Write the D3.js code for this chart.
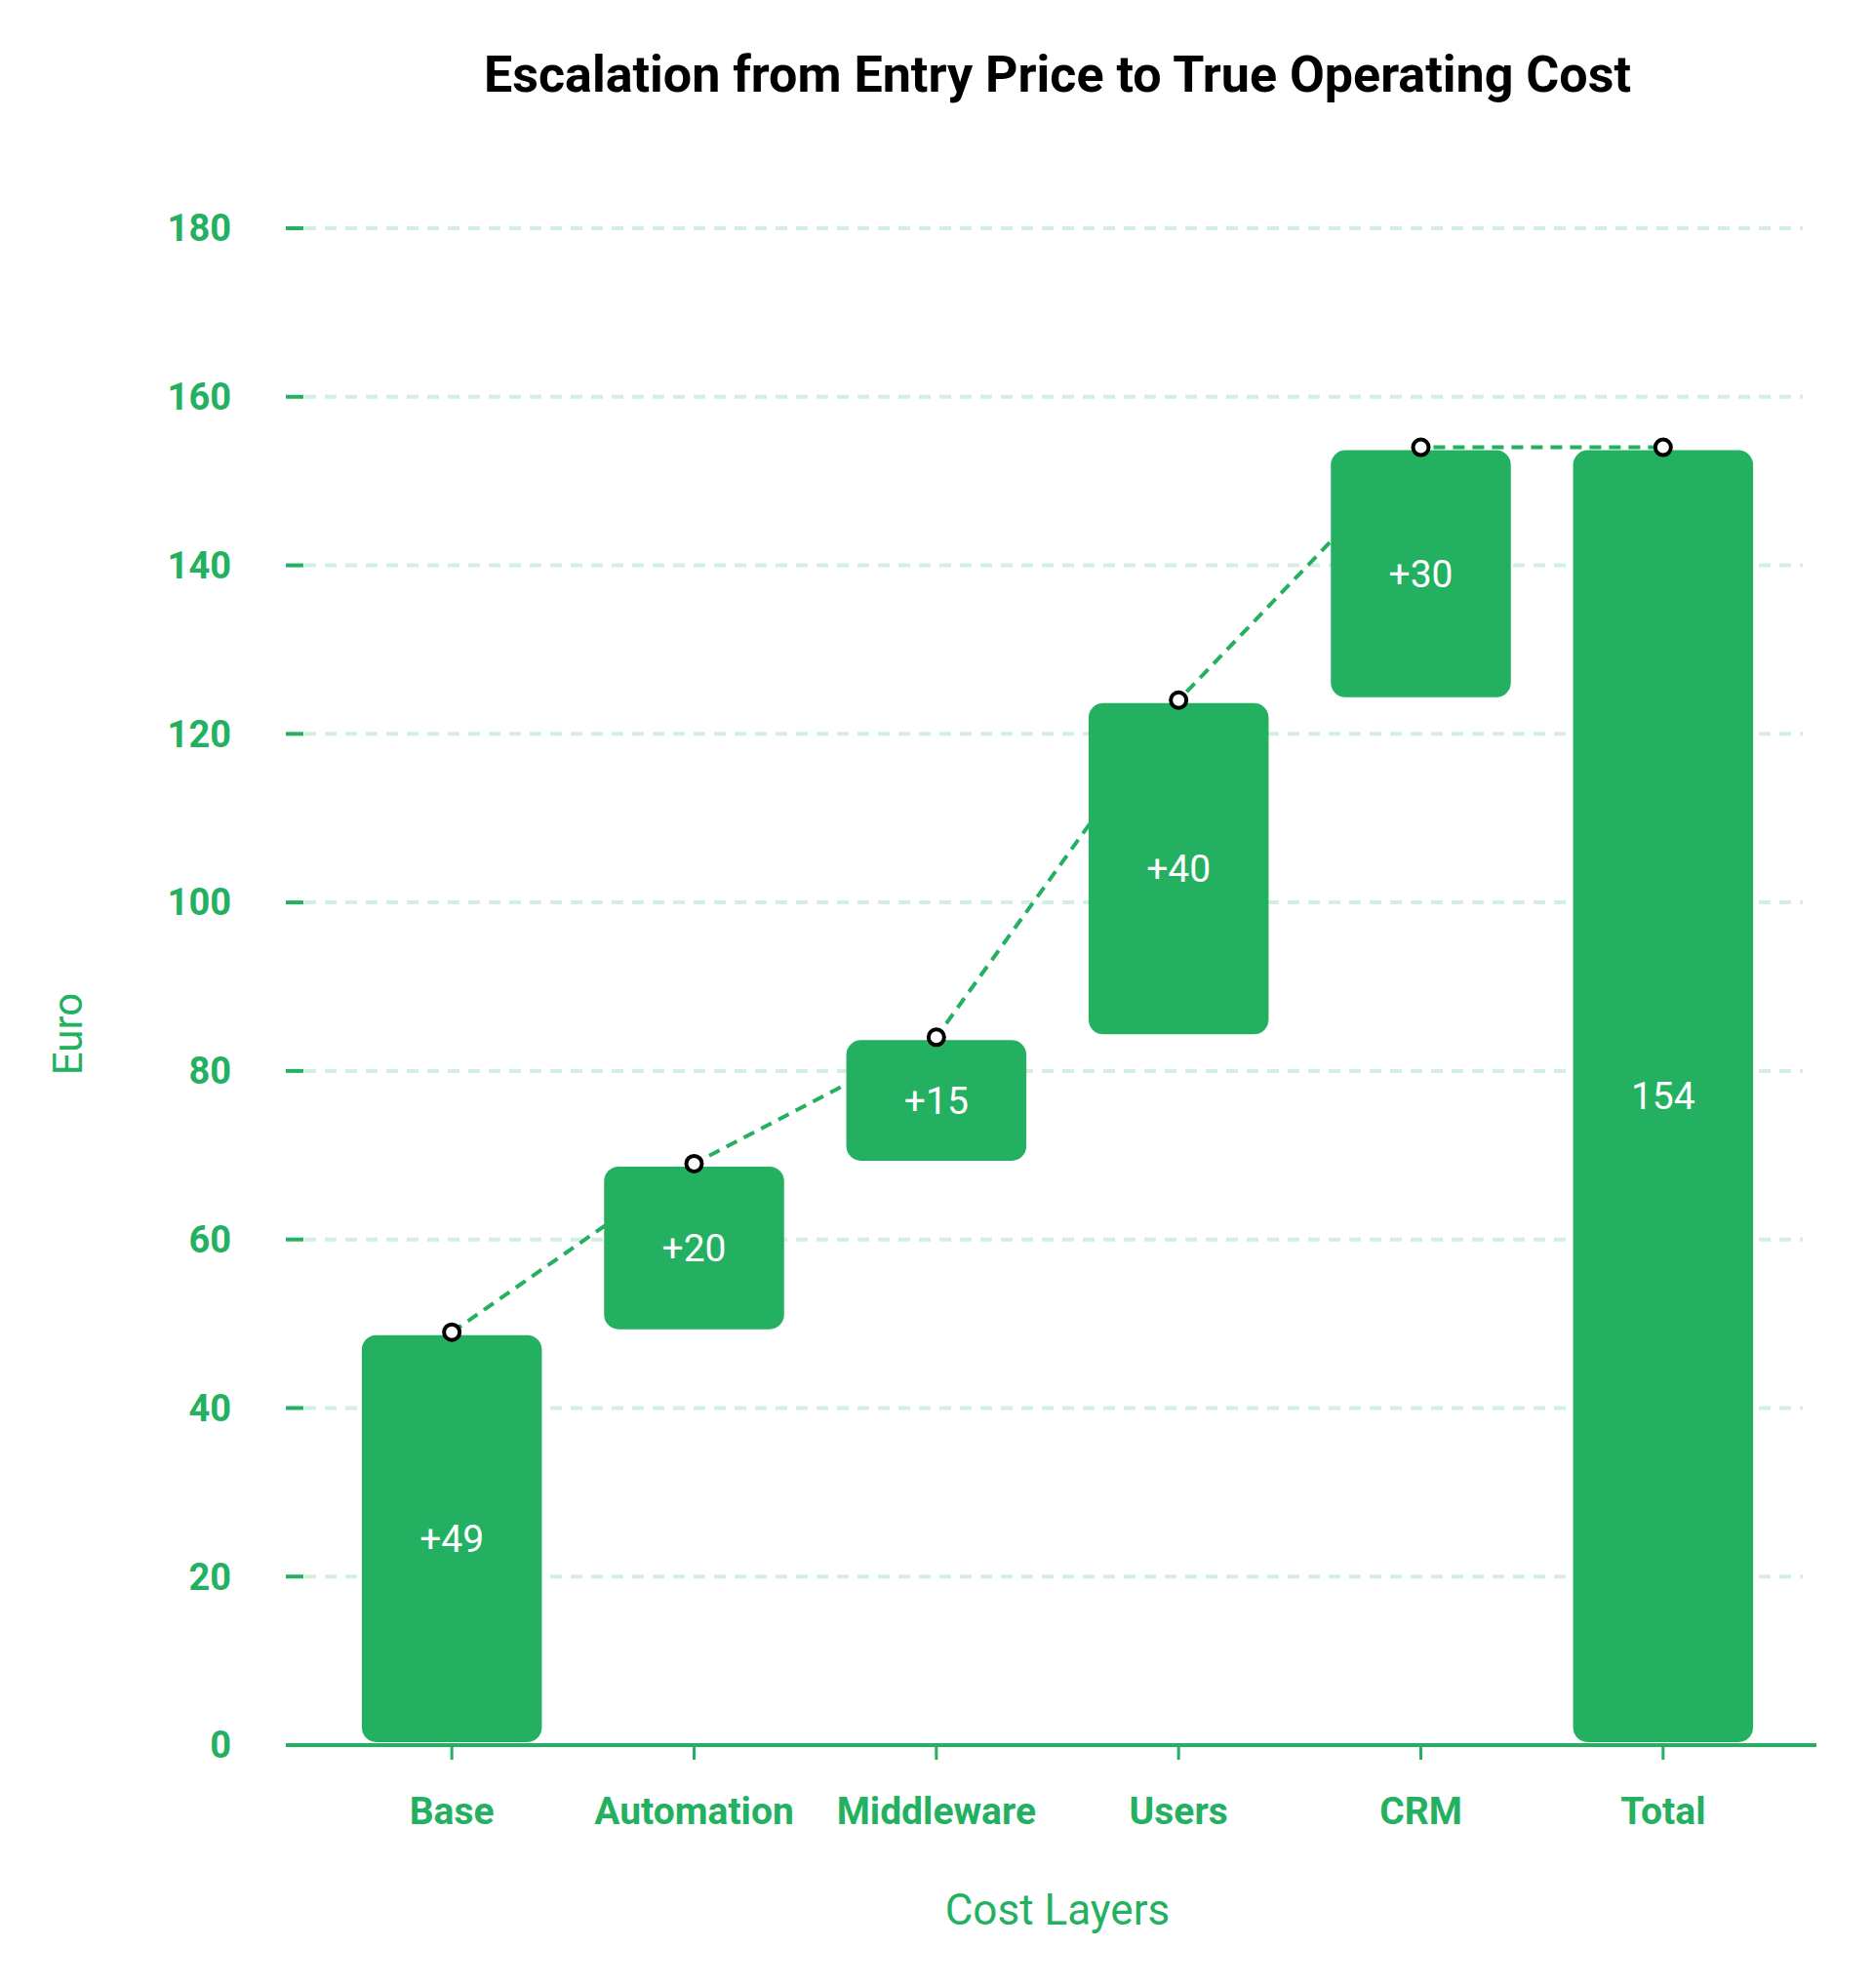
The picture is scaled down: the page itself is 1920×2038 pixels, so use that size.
<!DOCTYPE html>
<html><head><meta charset="utf-8">
<script src="https://cdn.jsdelivr.net/npm/d3@7"></script>
<style>body{margin:0;background:#fff}svg{display:block;font-family:Roboto,sans-serif}</style>
</head><body>
<script>
// data
var categories = ["Base", "Automation", "Middleware", "Users", "CRM", "Total"];
var deltas = [49, 20, 15, 40, 30];
var total = 154;
var yTicks = [0, 20, 40, 60, 80, 100, 120, 140, 160, 180];

var green = "#23b060";
var W = 1920, H = 2038;

var svg = d3.select("body").append("svg").attr("width", W).attr("height", H);

var x = d3.scaleBand().domain(categories).range([339, 1829]).paddingInner(0.257).paddingOuter(0.1285);
var y = d3.scaleLinear().domain([0, 180]).range([1789, 234]);

// build steps
var rows = [], run = 0;
deltas.forEach(function(d, i){
  rows.push({cat: categories[i], lo: run, hi: run + d, label: "+" + d});
  run += d;
});
rows.push({cat: "Total", lo: 0, hi: total, label: String(total)});

// grid
svg.append("g").selectAll("line").data(yTicks.filter(function(t){return t > 0;})).enter()
  .append("line")
  .attr("x1", 312).attr("x2", 1848)
  .attr("y1", function(d){return y(d);}).attr("y2", function(d){return y(d);})
  .attr("stroke", "#d3efdf").attr("stroke-width", 4).attr("stroke-dasharray", "12,9");

// y axis ticks + labels
var ya = svg.append("g");
ya.selectAll("line").data(yTicks).enter().append("line")
  .attr("x1", 293).attr("x2", 311)
  .attr("y1", function(d){return y(d);}).attr("y2", function(d){return y(d);})
  .attr("stroke", green).attr("stroke-width", 4);
ya.selectAll("text").data(yTicks).enter().append("text")
  .attr("x", 237).attr("y", function(d){return y(d);}).attr("dy", "0.35em")
  .attr("text-anchor", "end").attr("fill", green)
  .attr("font-size", 38).attr("font-weight", "bold").text(function(d){return d;});

// connector line
var pts = rows.map(function(r){return [x(r.cat) + x.bandwidth()/2, y(r.hi)];});
svg.append("path").attr("d", d3.line()(pts))
  .attr("fill", "none").attr("stroke", green).attr("stroke-width", 4).attr("stroke-dasharray", "12,8");

// bars
svg.append("g").selectAll("rect").data(rows).enter().append("rect")
  .attr("x", function(d){return x(d.cat);})
  .attr("y", function(d){return y(d.hi) + 3;})
  .attr("width", x.bandwidth())
  .attr("height", function(d){return y(d.lo) - y(d.hi) - 6;})
  .attr("rx", 15).attr("fill", green);

svg.append("g").selectAll("text").data(rows).enter().append("text")
  .attr("x", function(d){return x(d.cat) + x.bandwidth()/2;})
  .attr("y", function(d){return y((d.lo + d.hi)/2);}).attr("dy", "0.35em")
  .attr("text-anchor", "middle").attr("fill", "#fff").attr("font-size", 39)
  .text(function(d){return d.label;});

// dots
svg.append("g").selectAll("circle").data(pts).enter().append("circle")
  .attr("cx", function(d){return d[0];}).attr("cy", function(d){return d[1];})
  .attr("r", 8).attr("fill", "#fff").attr("stroke", "#000").attr("stroke-width", 4);

// x axis
svg.append("line").attr("x1", 294).attr("x2", 1862).attr("y1", 1789).attr("y2", 1789)
  .attr("stroke", green).attr("stroke-width", 4);
var xa = svg.append("g");
xa.selectAll("line").data(categories).enter().append("line")
  .attr("x1", function(d){return x(d) + x.bandwidth()/2;})
  .attr("x2", function(d){return x(d) + x.bandwidth()/2;})
  .attr("y1", 1789).attr("y2", 1804).attr("stroke", green).attr("stroke-width", 3);
xa.selectAll("text").data(categories).enter().append("text")
  .attr("x", function(d){return x(d) + x.bandwidth()/2;}).attr("y", 1870)
  .attr("text-anchor", "middle").attr("fill", green)
  .attr("font-size", 39).attr("font-weight", "bold").text(function(d){return d;});

// titles
svg.append("text").attr("x", 1084).attr("y", 94).attr("text-anchor", "middle")
  .attr("font-size", 52).attr("font-weight", "bold").attr("fill", "#000")
  .text("Escalation from Entry Price to True Operating Cost");
svg.append("text").attr("x", 1084).attr("y", 1973).attr("text-anchor", "middle")
  .attr("font-size", 44).attr("fill", green).text("Cost Layers");
svg.append("text").attr("transform", "translate(84,1060) rotate(-90)")
  .attr("text-anchor", "middle").attr("font-size", 42).attr("fill", green).text("Euro");
</script>
</body></html>
